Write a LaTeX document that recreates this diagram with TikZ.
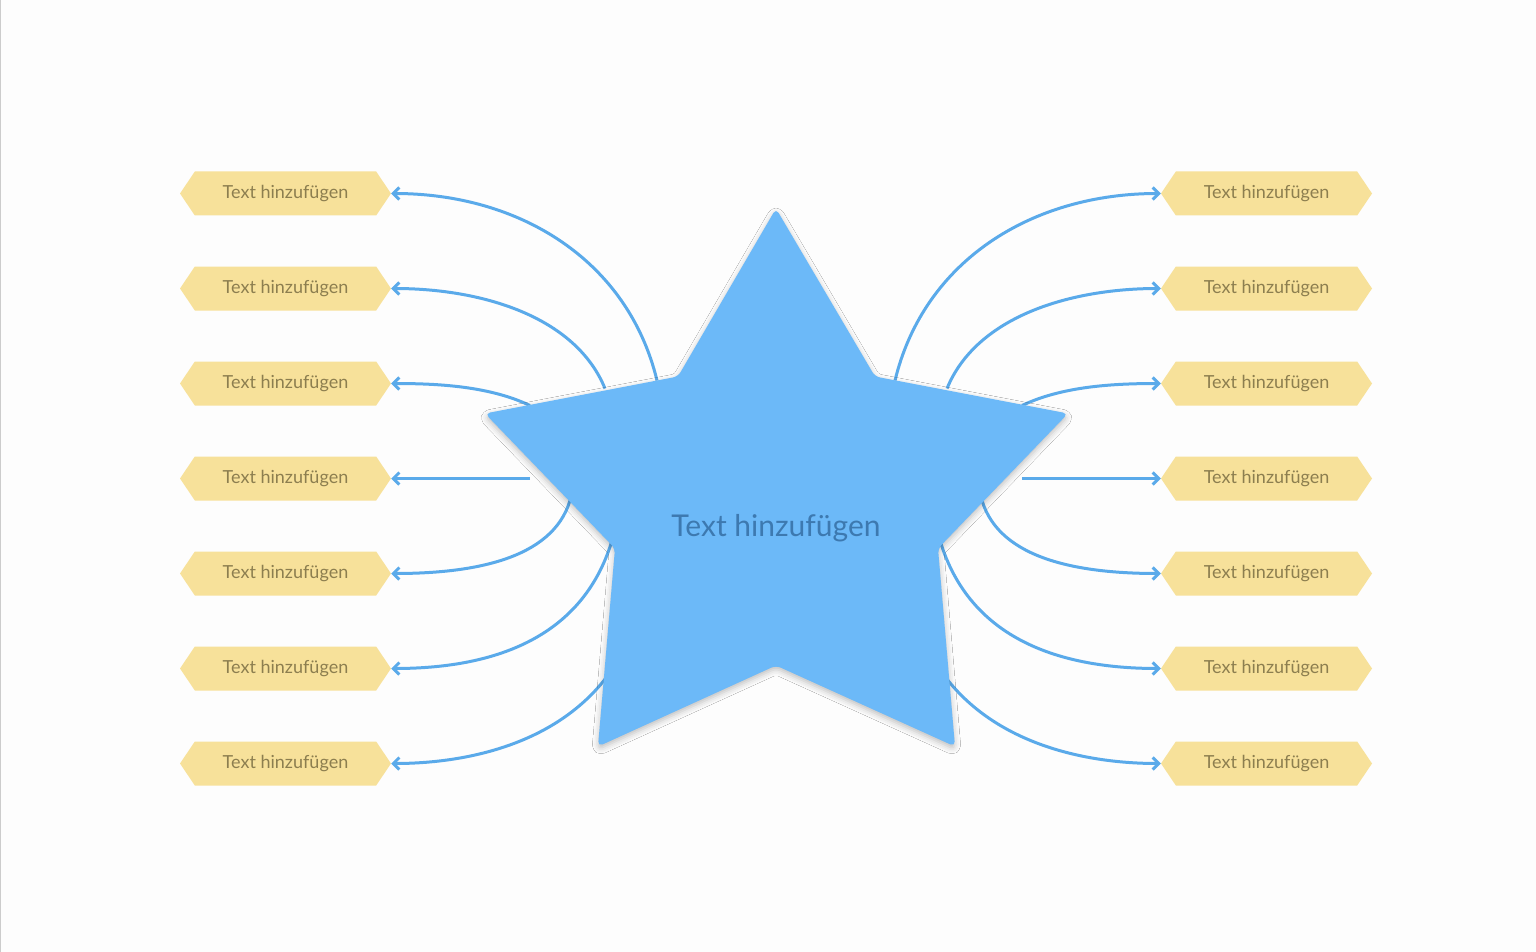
\documentclass[tikz,border=0pt]{standalone}
\usepackage{fontspec}
\setmainfont{Lato}
\usetikzlibrary{shapes.symbols,arrows.meta,shadows.blur}
\definecolor{bg}{HTML}{FDFDFD}
\definecolor{hexfill}{HTML}{F7E19A}
\definecolor{hextext}{HTML}{8C7E4F}
\definecolor{starfill}{HTML}{6CB9F8}
\definecolor{startext}{HTML}{3D79B0}
\definecolor{conn}{HTML}{5AAAEA}
\tikzset{
  hexbox/.style={shape=signal, signal to=west and east, signal pointer angle=112,
    fill=hexfill, text=hextext, minimum width=211pt, minimum height=44pt, inner sep=0pt,
    font=\fontsize{18}{20}\selectfont},
  connline/.style={draw=conn, line width=3pt, -{Straight Barb[length=6pt,width=12pt,line width=3pt]}}
}
\begin{document}
\begin{tikzpicture}[x=1pt,y=-1pt]
\fill[bg] (0,0) rectangle (1536,951);
\draw[gray!40, line width=1pt] (0.5,0) -- (0.5,951);
\useasboundingbox (0,0) rectangle (1536,951);
\foreach \i/\y/\sx/\sy/\ax/\ay/\bx in {1/193/657/380/628/260/520, 2/288/605/388/575/315/480, 3/383/530/405/490/386/440, 4/478/530/478/480/478/440, 5/573/570/500/552/560/470, 6/668/612/540/582/640/490, 7/763/610/672/560/742/470}{
  \node[hexbox] (L\i) at (285.5,\y) {Text hinzufügen};
  \node[hexbox] (R\i) at (1266.5,\y) {Text hinzufügen};
  \coordinate (ls\i) at (\sx,\sy);
  \coordinate (rs\i) at ({1552-\sx},\sy);
  \draw[connline] (ls\i) .. controls (\ax,\ay) and (\bx,\y) .. (L\i.east);
  \draw[connline] (rs\i) .. controls ({1552-\ax},\ay) and ({1552-\bx},\y) .. (R\i.west);
}
\fill[starfill, rounded corners=5pt, blur shadow={shadow xshift=0pt, shadow yshift=-3pt, shadow blur radius=6pt, shadow opacity=25}]
  (776,208) -- (875,376) -- (1068,413) -- (938,548) -- (955,746) -- (776,665)
  -- (598,746) -- (615,548) -- (485,413) -- (678,376) -- cycle;
\node[text=startext, font=\fontsize{30}{34}\selectfont] (c) at (776,528) {Text hinzufügen};
\end{tikzpicture}
\end{document}
